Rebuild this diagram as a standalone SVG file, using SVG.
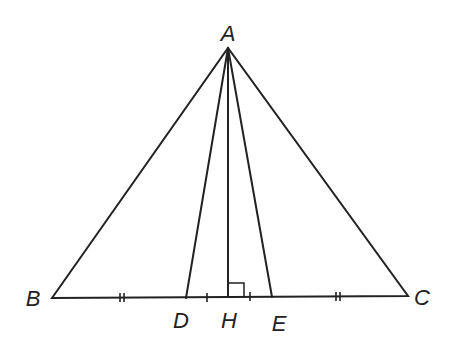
<svg xmlns="http://www.w3.org/2000/svg" width="450" height="339" viewBox="0 0 450 339">
<style>
.l{stroke:#222;stroke-width:2;fill:none;stroke-linecap:round}
.t{stroke:#222;stroke-width:1.6}
text{font-family:"Liberation Sans",Arial,sans-serif;font-style:italic;font-size:22px;fill:#222}
</style>
<rect width="450" height="339" fill="#fff"/>
<g id="connectors">
<path class="l" d="M52 298 L228 48 L408 296 Z"/>
<line class="l" x1="228" y1="48" x2="186" y2="298"/>
<line class="l" x1="228" y1="48" x2="228" y2="297"/>
<line class="l" x1="228" y1="48" x2="272" y2="297"/>
<path class="l" d="M228 283 H244 V297" style="stroke-width:1.5"/>
<line class="t" x1="120" y1="293" x2="120" y2="302"/>
<line class="t" x1="124" y1="293" x2="124" y2="302"/>
<line class="t" x1="207" y1="293" x2="207" y2="302"/>
<line class="t" x1="250" y1="292" x2="250" y2="301"/>
<line class="t" x1="336" y1="292" x2="336" y2="301"/>
<line class="t" x1="340" y1="292" x2="340" y2="301"/>
</g>
<g id="A"><text x="228" y="41" text-anchor="middle">A</text></g>
<g id="B"><text x="33" y="306" text-anchor="middle">B</text></g>
<g id="C"><text x="422" y="305" text-anchor="middle">C</text></g>
<g id="D"><text x="181" y="328" text-anchor="middle">D</text></g>
<g id="H"><text x="229" y="328" text-anchor="middle">H</text></g>
<g id="E"><text x="279" y="331" text-anchor="middle">E</text></g>
</svg>
